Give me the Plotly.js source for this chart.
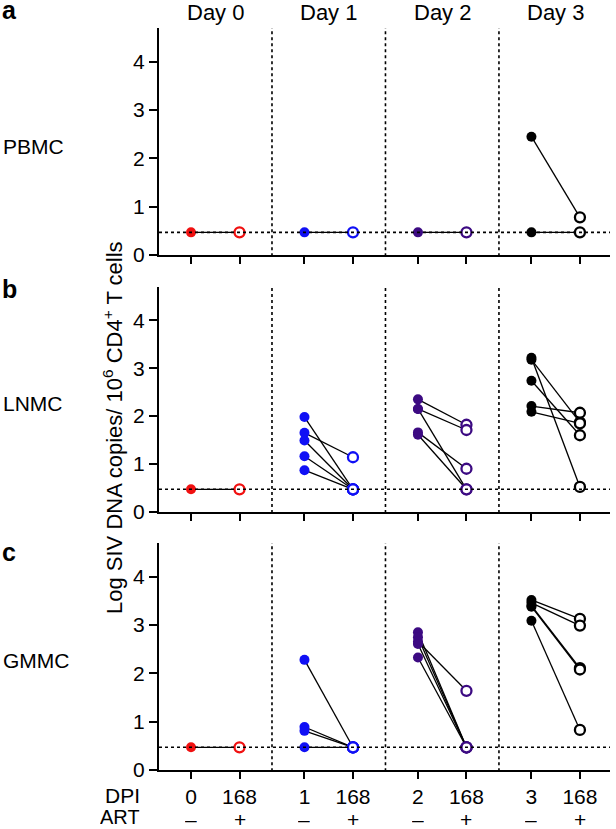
<!DOCTYPE html>
<html>
<head>
<meta charset="utf-8">
<script src="https://cdn.plot.ly/plotly-3.0.1.min.js"></script>
<style>html,body{margin:0;padding:0;background:#fff;}#chart{width:616px;height:829px;}</style>
</head>
<body>
<div id="chart"></div>
<script>
// ---- Data ----
const days = ["Day 0", "Day 1", "Day 2", "Day 3"];
const dpiLabels = ["0", "168", "1", "168", "2", "168", "3", "168"];
const artLabels = ["\u2013", "+", "\u2013", "+", "\u2013", "+", "\u2013", "+"];
const tissues = ["PBMC", "LNMC", "GMMC"];
const panelLetters = ["a", "b", "c"];
const dayColors = ["#f01010", "#1010f5", "#3c0a82", "#000000"];
const LOD = 0.47;

// pre-ART (DPI 0-3) and post-ART (DPI 168) paired values, per day
const pbmcPre  = [[0.47], [0.47], [0.47], [2.45, 0.47]];
const pbmcPost = [[0.47], [0.47], [0.47], [0.78, 0.47]];

const lnmcPre  = [[0.47], [1.98, 1.65, 1.49, 1.16, 0.87], [2.35, 2.15, 2.15, 1.66, 1.61], [3.22, 3.18, 2.74, 2.21, 2.09]];
const lnmcPost = [[0.47], [0.47, 1.14, 0.47, 0.47, 0.47], [1.82, 1.71, 0.47, 0.90, 0.47], [0.52, 1.87, 1.60, 2.07, 1.85]];

const gmmcPre  = [[0.47], [2.28, 0.89, 0.81, 0.47], [2.85, 2.75, 2.66, 2.61, 2.33], [3.52, 3.46, 3.40, 3.38, 3.09]];
const gmmcPost = [[0.47], [0.47, 0.47, 0.47, 0.47], [0.47, 0.47, 1.64, 0.47, 0.47], [3.13, 2.99, 2.11, 2.08, 0.83]];

const panelsPre = [pbmcPre, lnmcPre, gmmcPre];
const panelsPost = [pbmcPost, lnmcPost, gmmcPost];

// ---- Layout constants ----
const GROUP_STEP = 2.34, PAIR_STEP = 1;
const pos = (g, k) => g * GROUP_STEP + k * PAIR_STEP;
const tickPos = [];
for (let g = 0; g < 4; g++) { tickPos.push(pos(g, 0), pos(g, 1)); }

const traces = [];
const axSuffix = ["", "2", "3"];
for (let p = 0; p < 3; p++) {
  const xa = "x" + axSuffix[p], ya = "y" + axSuffix[p];
  const pre = panelsPre[p], post = panelsPost[p];
  // connecting lines
  for (let g = 0; g < 4; g++) {
    const lx = [], ly = [];
    for (let i = 0; i < pre[g].length; i++) {
      lx.push(pos(g, 0), pos(g, 1), null);
      ly.push(pre[g][i], post[g][i], null);
    }
    traces.push({x: lx, y: ly, xaxis: xa, yaxis: ya, mode: "lines",
      line: {color: "#000", width: 1.3}, hoverinfo: "skip", showlegend: false});
  }
  // markers
  for (let g = 0; g < 4; g++) {
    traces.push({x: pre[g].map(() => pos(g, 0)), y: pre[g], xaxis: xa, yaxis: ya, mode: "markers",
      marker: {color: dayColors[g], size: 10, line: {width: 0}}, showlegend: false});
    traces.push({x: post[g].map(() => pos(g, 1)), y: post[g], xaxis: xa, yaxis: ya, mode: "markers",
      marker: {color: "#fff", size: 10, line: {color: dayColors[g], width: 2.3}}, showlegend: false});
  }
}

const FONT = "Liberation Sans, Arial, Helvetica, sans-serif";
const FS = 21;
const xRange = [-0.66, 8.64];
const yRange = [0, 4.7];
const domains = [[0.694, 1], [0.348, 0.651], [0, 0.306]];

const layout = {
  width: 616, height: 829,
  margin: {l: 159, r: 6, t: 28, b: 59},
  paper_bgcolor: "#fff", plot_bgcolor: "#fff",
  font: {family: FONT, size: FS, color: "#000"},
  showlegend: false,
  shapes: [], annotations: []
};

for (let p = 0; p < 3; p++) {
  const s = axSuffix[p];
  layout["xaxis" + s] = {
    range: xRange, anchor: "y" + s, showgrid: false, zeroline: false,
    showline: true, linewidth: 2, linecolor: "#000",
    ticks: "outside", ticklen: 7, tickwidth: 2, tickcolor: "#000",
    tickvals: tickPos, ticktext: dpiLabels,
    showticklabels: p === 2, ticklabelstandoff: 0,
    tickfont: {size: FS, family: FONT}, fixedrange: true
  };
  layout["yaxis" + s] = {
    range: yRange, domain: domains[p], anchor: "x" + s,
    showgrid: false, zeroline: false,
    showline: true, linewidth: 2, linecolor: "#000",
    ticks: "outside", ticklen: 8, tickwidth: 2, tickcolor: "#000",
    tickvals: [0, 1, 2, 3, 4], tickfont: {size: FS, family: FONT}, fixedrange: true
  };
  // LOD dotted line
  layout.shapes.push({type: "line", xref: "x" + s + " domain", yref: "y" + s,
    x0: 0, x1: 1, y0: LOD, y1: LOD, line: {color: "#000", width: 1.6, dash: "dot"}});
  // vertical dividers
  for (let g = 0; g < 3; g++) {
    const xm = (pos(g, 1) + pos(g + 1, 0)) / 2;
    layout.shapes.push({type: "line", xref: "x" + s, yref: "y" + s + " domain",
      x0: xm, x1: xm, y0: -0.005, y1: 1, line: {color: "#000", width: 1.6, dash: "dot"}});
  }
}

// px helpers (plot area: x 159..610, y 28..770)
const px = X => (X - 159) / 451;
const py = Y => (770 - Y) / 742;

// ART row (signs under each DPI tick)
tickPos.forEach((v, i) => {
  layout.annotations.push({text: artLabels[i], xref: "x3", yref: "paper", x: v, y: py(819),
    xanchor: "center", yanchor: "middle", height: 18, borderpad: 0,
    showarrow: false, font: {size: FS}});
});
// Day headers
days.forEach((d, g) => {
  layout.annotations.push({text: d, xref: "x", yref: "paper", x: (pos(g, 0) + pos(g, 1)) / 2,
    y: py(13), xanchor: "center", yanchor: "middle", showarrow: false, font: {size: 22}});
});
// Tissue labels
const tissueY = [146, 404, 660];
tissues.forEach((t, i) => {
  layout.annotations.push({text: t, xref: "paper", yref: "paper", x: px(1), y: py(tissueY[i]),
    xanchor: "left", yanchor: "middle", showarrow: false, font: {size: FS}});
});
// Panel letters
const letterY = [10.5, 289, 552];
panelLetters.forEach((l, i) => {
  layout.annotations.push({text: "<b>" + l + "</b>", xref: "paper", yref: "paper", x: px(1), y: py(letterY[i]),
    xanchor: "left", yanchor: "middle", height: i === 0 ? 20 : null, borderpad: 0,
    showarrow: false, font: {size: 25}});
});
// Y-axis title
layout.annotations.push({text: "Log SIV DNA copies/ 10<sup>6</sup> CD4<sup>+</sup> T cells",
  xref: "paper", yref: "paper", x: px(113), y: py(428), textangle: -90,
  xanchor: "center", yanchor: "middle", showarrow: false, font: {size: 22}});
// Row headers
layout.annotations.push({text: "DPI", xref: "paper", yref: "paper", x: px(141), y: py(795),
  xanchor: "right", yanchor: "middle", height: 20, borderpad: 0, showarrow: false, font: {size: FS}});
layout.annotations.push({text: "ART", xref: "paper", yref: "paper", x: px(141), y: py(817),
  xanchor: "right", yanchor: "middle", height: 22, borderpad: 0, showarrow: false, font: {size: 20}});

Plotly.newPlot("chart", traces, layout, {staticPlot: true, displayModeBar: false});
</script>
</body>
</html>
